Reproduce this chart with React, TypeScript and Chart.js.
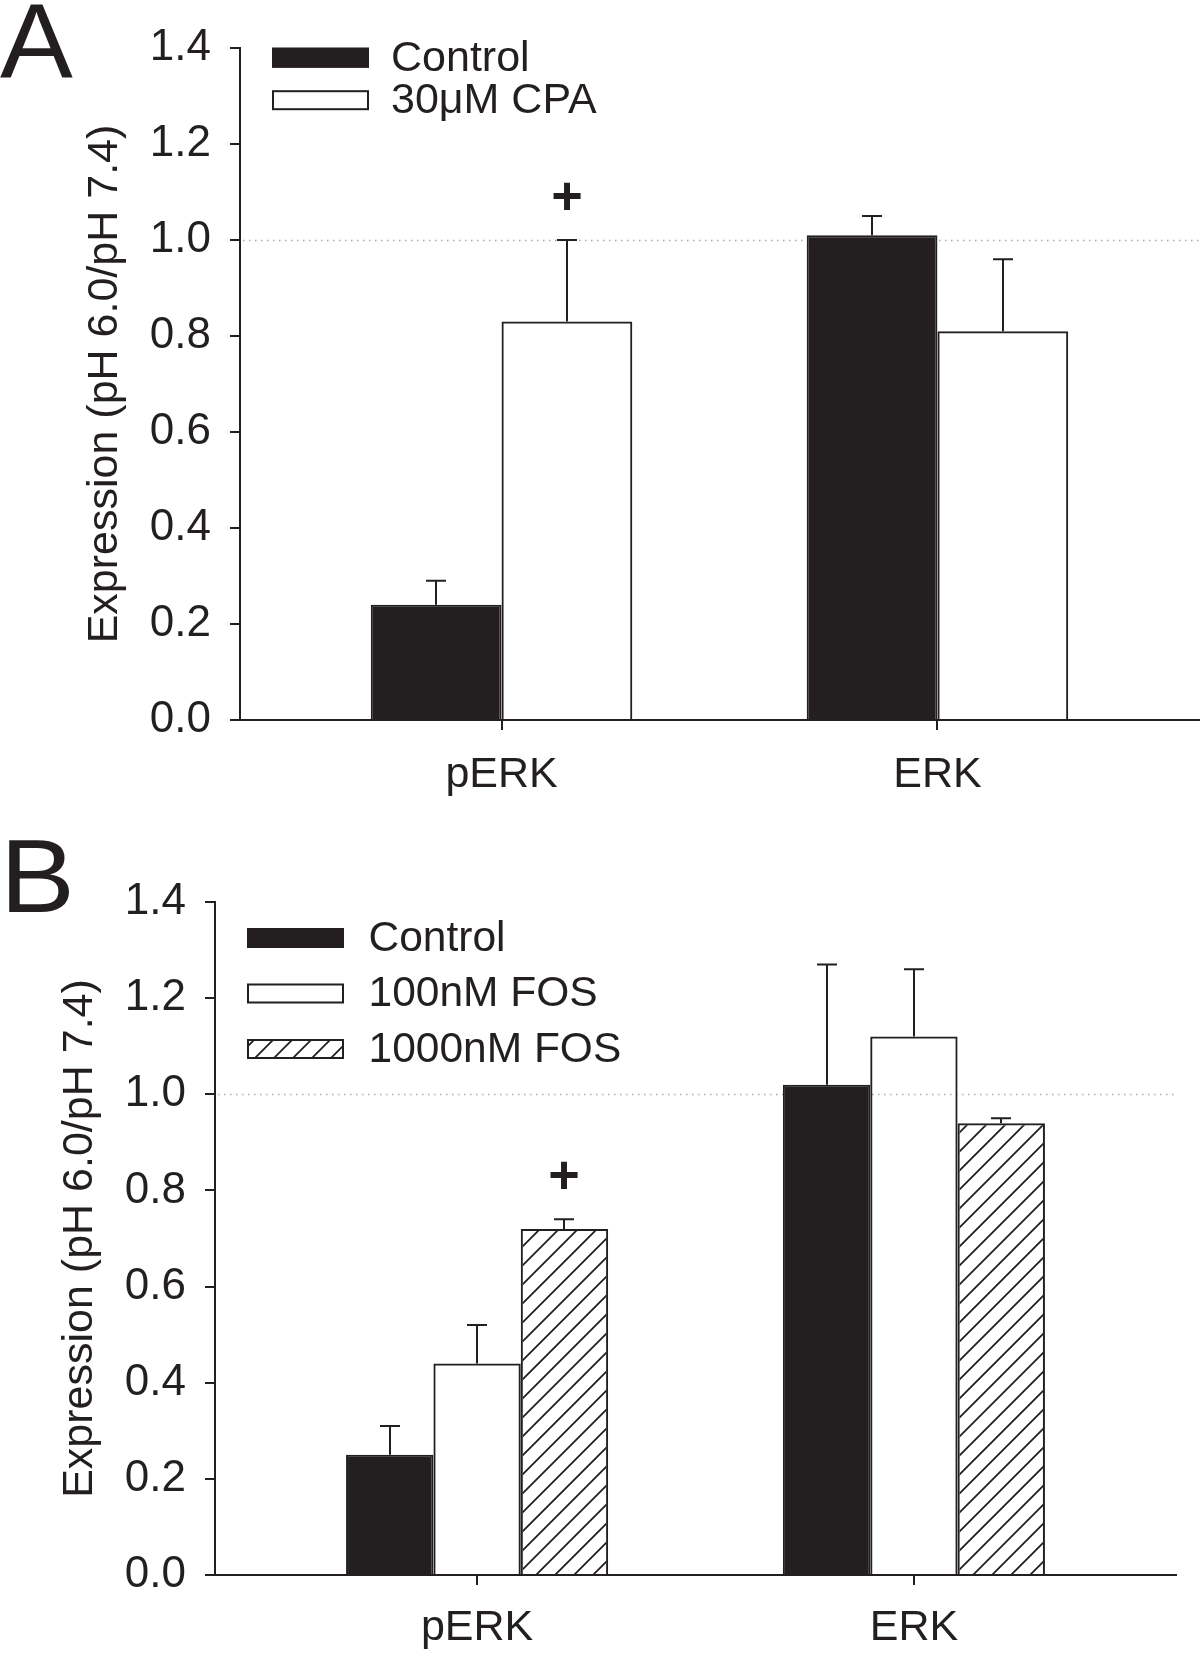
import React, { useEffect, useRef } from 'react';
import { Chart, registerables } from 'chart.js';

Chart.register(...registerables);

const FONT = '"Liberation Sans", Arial, Helvetica, sans-serif';
const INK = '#231f20';
const DOT = '#a7a9ac';

// ---- shared axis data ----
const categories = ['pERK', 'ERK'];
const categoryX = [1, 2];
const yTickValues = [0, 0.2, 0.4, 0.6, 0.8, 1.0, 1.2, 1.4];
const yTitle = 'Expression (pH 6.0/pH 7.4)';
const referenceLevel = 1.0;

// ---- Panel A ----
const seriesNamesA = ['Control', '30\u03bcM CPA'];
const controlA = [0.24, 1.01];
const controlAErr = [0.05, 0.04];
const cpaA = [0.83, 0.81];
const cpaAErr = [0.17, 0.15];
const controlAMarks = ['', ''];
const cpaAMarks = ['+', ''];

// ---- Panel B ----
const seriesNamesB = ['Control', '100nM FOS', '1000nM FOS'];
const controlB = [0.25, 1.02];
const controlBErr = [0.06, 0.25];
const fos100B = [0.44, 1.12];
const fos100BErr = [0.08, 0.14];
const fos1000B = [0.72, 0.94];
const fos1000BErr = [0.02, 0.01];
const controlBMarks = ['', ''];
const fos100BMarks = ['', ''];
const fos1000BMarks = ['+', ''];

const toPoints = (vals: number[]) => vals.map((y, i) => ({ x: categoryX[i], y }));

function makeHatch(): CanvasPattern | string {
  const s = 19;
  const c = document.createElement('canvas');
  c.width = s;
  c.height = s;
  const g = c.getContext('2d');
  if (!g) return INK;
  g.strokeStyle = INK;
  g.lineWidth = 1.8;
  g.beginPath();
  g.moveTo(-1, s + 1);
  g.lineTo(s + 1, -1);
  g.moveTo(-s / 2, s / 2);
  g.lineTo(s / 2, -s / 2);
  g.moveTo(s / 2, s * 1.5);
  g.lineTo(s * 1.5, s / 2);
  g.stroke();
  return g.createPattern(c, 'repeat') || INK;
}

const refLinePlugin = {
  id: 'refLine',
  beforeDatasetsDraw(chart: any) {
    const { ctx, chartArea, scales } = chart;
    const y = Math.round(scales.y.getPixelForValue(referenceLevel)) + 0.5;
    ctx.save();
    ctx.strokeStyle = DOT;
    ctx.lineWidth = 1.5;
    ctx.setLineDash([1.5, 4.5]);
    ctx.beginPath();
    ctx.moveTo(chartArea.left + 3, y);
    ctx.lineTo(chartArea.right, y);
    ctx.stroke();
    ctx.restore();
  },
};

const errorBarPlugin = {
  id: 'errorBars',
  afterDatasetsDraw(chart: any) {
    const { ctx, scales } = chart;
    chart.data.datasets.forEach((ds: any, i: number) => {
      const meta = chart.getDatasetMeta(i);
      meta.data.forEach((bar: any, j: number) => {
        const v = ds.data[j].y;
        const yTop = scales.y.getPixelForValue(v + ds.errors[j]);
        const x = Math.round(bar.x);
        ctx.save();
        ctx.strokeStyle = INK;
        ctx.lineWidth = 2;
        ctx.beginPath();
        ctx.moveTo(x, bar.y);
        ctx.lineTo(x, yTop);
        ctx.moveTo(x - 10, yTop);
        ctx.lineTo(x + 10, yTop);
        ctx.stroke();
        if (ds.marks && ds.marks[j]) {
          ctx.fillStyle = INK;
          ctx.font = `bold 54px ${FONT}`;
          ctx.textAlign = 'center';
          ctx.textBaseline = 'middle';
          ctx.fillText(ds.marks[j], x, yTop - 41);
        }
        ctx.restore();
      });
    });
  },
};

const legendPlugin = {
  id: 'panelLegend',
  afterDraw(chart: any, _args: any, opts: any) {
    const { ctx } = chart;
    chart.data.datasets.forEach((ds: any, i: number) => {
      const cy = opts.y + i * opts.dy;
      const top = cy - opts.h / 2;
      ctx.save();
      ctx.fillStyle = '#ffffff';
      ctx.fillRect(opts.x, top, opts.w, opts.h);
      ctx.fillStyle = ds.backgroundColor;
      ctx.fillRect(opts.x, top, opts.w, opts.h);
      ctx.strokeStyle = INK;
      ctx.lineWidth = 2;
      ctx.strokeRect(opts.x + 1, top + 1, opts.w - 2, opts.h - 2);
      ctx.fillStyle = INK;
      ctx.font = `${opts.fontSize}px ${FONT}`;
      ctx.textAlign = 'left';
      ctx.textBaseline = 'middle';
      ctx.fillText(ds.label, opts.textX, cy + 1);
      ctx.restore();
    });
  },
};

const letterPlugin = {
  id: 'panelLetter',
  afterDraw(chart: any, _args: any, opts: any) {
    const { ctx } = chart;
    ctx.save();
    ctx.fillStyle = INK;
    ctx.font = `${opts.size}px ${FONT}`;
    ctx.textAlign = 'left';
    ctx.textBaseline = 'alphabetic';
    ctx.translate(opts.x, opts.y);
    ctx.scale(opts.sx, 1);
    ctx.fillText(opts.text, 0, 0);
    ctx.restore();
  },
};

function makeConfig(o: any): any {
  return {
    type: 'bar',
    data: { datasets: o.datasets },
    options: {
      responsive: false,
      animation: false,
      layout: { padding: o.layoutPadding },
      datasets: { bar: { categoryPercentage: 0.6, barPercentage: 1.0 } },
      plugins: {
        legend: { display: false },
        tooltip: { enabled: false },
        panelLegend: o.legend,
        panelLetter: o.letter,
      },
      scales: {
        x: {
          type: 'linear',
          min: 0.4,
          max: 2.6,
          offset: false,
          afterBuildTicks: (s: any) => {
            s.ticks = categoryX.map((v) => ({ value: v }));
          },
          afterFit: (s: any) => {
            s.height = o.xHeight;
          },
          grid: {
            offset: false,
            drawOnChartArea: false,
            drawTicks: true,
            tickLength: 10,
            lineWidth: 2,
            color: INK,
          },
          border: { display: true, color: INK, width: 2 },
          ticks: {
            callback: (v: any) => {
              const k = categoryX.indexOf(Number(v));
              return k >= 0 ? categories[k] : '';
            },
            font: { family: FONT, size: 43 },
            color: INK,
            padding: o.xLabelPad,
            maxRotation: 0,
            autoSkip: false,
          },
        },
        y: {
          type: 'linear',
          min: 0,
          max: 1.4,
          afterBuildTicks: (s: any) => {
            s.ticks = yTickValues.map((v) => ({ value: v }));
          },
          afterFit: (s: any) => {
            s.width = o.yWidth;
          },
          grid: {
            drawOnChartArea: false,
            drawTicks: true,
            tickLength: 10,
            lineWidth: 2,
            color: INK,
          },
          border: { display: true, color: INK, width: 2 },
          ticks: {
            callback: (v: any) => Number(v).toFixed(1),
            font: { family: FONT, size: 44 },
            color: INK,
            padding: 19,
          },
          title: {
            display: true,
            text: yTitle,
            font: { family: FONT, size: 43 },
            color: INK,
            padding: { top: o.titlePad, bottom: 0 },
          },
        },
      },
    },
    plugins: [refLinePlugin, errorBarPlugin, legendPlugin, letterPlugin],
  };
}

function buildA(): any {
  return makeConfig({
    datasets: [
      {
        label: seriesNamesA[0],
        data: toPoints(controlA),
        errors: controlAErr,
        marks: controlAMarks,
        backgroundColor: INK,
        borderColor: INK,
        borderWidth: 2,
      },
      {
        label: seriesNamesA[1],
        data: toPoints(cpaA),
        errors: cpaAErr,
        marks: cpaAMarks,
        backgroundColor: 'rgba(255,255,255,0)',
        borderColor: INK,
        borderWidth: 2,
      },
    ],
    layoutPadding: { left: 0, right: 1, top: 48, bottom: 0 },
    yWidth: 240,
    xHeight: 80,
    titlePad: 79,
    xLabelPad: 19,
    legend: { x: 272, y: 57.7, dy: 42.5, w: 97, h: 20, textX: 391, fontSize: 43 },
    letter: { text: 'A', x: 0, y: 77, size: 105, sx: 1.04 },
  });
}

function buildB(): any {
  const hatch = makeHatch();
  return makeConfig({
    datasets: [
      {
        label: seriesNamesB[0],
        data: toPoints(controlB),
        errors: controlBErr,
        marks: controlBMarks,
        backgroundColor: INK,
        borderColor: INK,
        borderWidth: 2,
      },
      {
        label: seriesNamesB[1],
        data: toPoints(fos100B),
        errors: fos100BErr,
        marks: fos100BMarks,
        backgroundColor: 'rgba(255,255,255,0)',
        borderColor: INK,
        borderWidth: 2,
      },
      {
        label: seriesNamesB[2],
        data: toPoints(fos1000B),
        errors: fos1000BErr,
        marks: fos1000BMarks,
        backgroundColor: hatch,
        borderColor: INK,
        borderWidth: 2,
      },
    ],
    layoutPadding: { left: 0, right: 24, top: 102, bottom: 0 },
    yWidth: 215,
    xHeight: 78,
    titlePad: 54,
    xLabelPad: 17,
    legend: { x: 247, y: 138, dy: 55.5, w: 97, h: 20, textX: 368.5, fontSize: 42.5 },
    letter: { text: 'B', x: 0, y: 112, size: 104, sx: 1.08 },
  });
}

function Panel(props: { build: () => any; top: number; height: number }) {
  const ref = useRef<HTMLCanvasElement>(null);
  useEffect(() => {
    if (!ref.current) return;
    const chart = new Chart(ref.current, props.build());
    return () => chart.destroy();
  }, []);
  return (
    <canvas
      ref={ref}
      width={1200}
      height={props.height}
      style={{ position: 'absolute', left: 0, top: props.top, width: 1200, height: props.height, display: 'block' }}
    />
  );
}

export default function App() {
  return (
    <div style={{ position: 'absolute', left: 0, top: 0, width: 1200, height: 1653, background: '#ffffff', overflow: 'hidden' }}>
      <Panel build={buildA} top={0} height={800} />
      <Panel build={buildB} top={800} height={853} />
    </div>
  );
}
